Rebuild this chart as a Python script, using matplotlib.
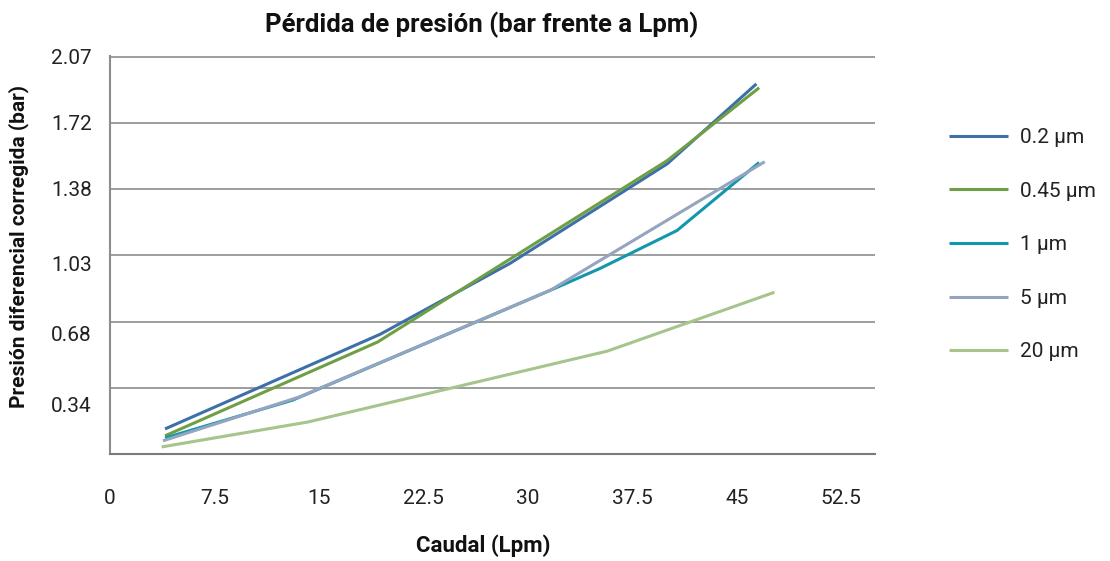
import matplotlib.pyplot as plt

# Datos (Caudal en Lpm, presion en bar)
x_02 = [3.95, 19.4, 28.7, 40.0, 46.4]
y_02 = [0.13, 0.624, 0.993, 1.513, 1.93]

x_045 = [3.95, 19.2, 40.0, 46.6]
y_045 = [0.094, 0.583, 1.53, 1.91]

x_1 = [3.95, 13.1, 31.6, 35.2, 40.7, 46.6]
y_1 = [0.083, 0.28, 0.853, 0.968, 1.165, 1.52]

x_5 = [3.8, 13.6, 31.6, 47.0]
y_5 = [0.068, 0.297, 0.853, 1.524]

x_20 = [3.7, 14.2, 35.7, 47.7]
y_20 = [0.036, 0.166, 0.536, 0.843]

labels = ["0.2 µm", "0.45 µm", "1 µm", "5 µm", "20 µm"]
colors = ["#3d6fa8", "#6e9f45", "#1297ad", "#95a4bf", "#a6c48c"]

x_ticks = [0, 7.5, 15, 22.5, 30, 37.5, 45, 52.5]
y_grid = [0.345 * i for i in range(1, 7)]
y_labels = ["0.34", "0.68", "1.03", "1.38", "1.72", "2.07"]
y_label_pos = [0.255, 0.629, 0.993, 1.383, 1.727, 2.075]

plt.rcParams["font.family"] = ["Roboto", "DejaVu Sans"]

fig = plt.figure(figsize=(11.1, 5.61), dpi=100)
ax = fig.add_axes([0.0991, 0.191, 0.689, 0.709])

series = [(x_02, y_02), (x_045, y_045), (x_1, y_1), (x_5, y_5), (x_20, y_20)]
for (xs, ys), lab, col in zip(series, labels, colors):
    ax.plot(xs, ys, color=col, lw=2.2, label=lab, solid_capstyle="butt")

ax.set_xlim(0, 54.9)
ax.set_ylim(0, 2.07)

# lineas de rejilla
ax.set_yticks(y_grid, minor=True)
ax.grid(which="minor", axis="y", color="#8c8c8c", lw=1.2)
ax.set_yticks(y_label_pos, y_labels)
ax.tick_params(axis="y", which="both", length=0, labelsize=15, pad=13, colors="#222222")

ax.set_xticks(x_ticks, [f"{t:g}" for t in x_ticks])
ax.tick_params(axis="x", length=0, labelsize=15, pad=25, colors="#222222")

for s in ["top", "right"]:
    ax.spines[s].set_visible(False)
ax.spines["left"].set_color("#8c8c8c")
ax.spines["left"].set_linewidth(1.5)
ax.spines["bottom"].set_color("#7a7a7a")
ax.spines["bottom"].set_linewidth(1.5)

fig.text(0.434, 0.955, "Pérdida de presión (bar frente a Lpm)", ha="center", va="center",
         fontsize=18.5, fontweight="bold", color="#111111")
fig.text(0.435, 0.027, "Caudal (Lpm)", ha="center", va="center",
         fontsize=16, fontweight="bold", color="#111111")
fig.text(0.017, 0.56, "Presión diferencial corregida (bar)", ha="center", va="center",
         rotation=90, fontsize=15, fontweight="bold", color="#111111")

ax.legend(loc="upper left", bbox_to_anchor=(1.073, 0.866), frameon=False, fontsize=15,
          handlelength=2.8, labelspacing=1.66, handletextpad=0.57, labelcolor="#222222")

fig.savefig("out.png", dpi=100)
plt.close()
